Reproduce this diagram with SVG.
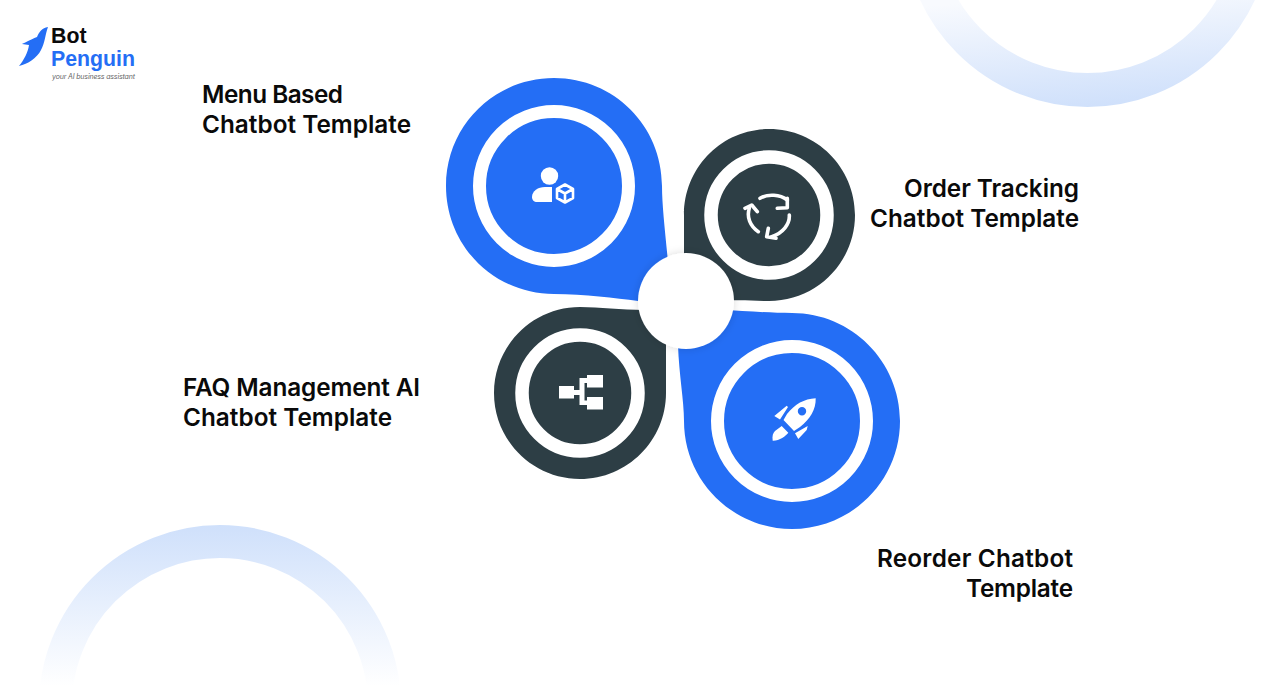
<svg xmlns="http://www.w3.org/2000/svg" width="1288" height="686" viewBox="0 0 1288 686">
<style>
.lbl{font-family:"Inter","Liberation Sans",sans-serif;font-size:24.300px;font-weight:600;fill:#0a0a0a}
.logo{font-family:"Liberation Sans",sans-serif;font-size:21.300px;font-weight:700}
.blue{fill:#246ef5}
.dark{fill:#2d3e45}
.ring{fill:none;stroke:#fff}
.ico{fill:#fff}
.lin{fill:none;stroke:#fff;stroke-width:3.600;stroke-linecap:round;stroke-linejoin:round}
</style>
<defs>
<linearGradient id="g1" gradientUnits="userSpaceOnUse" x1="1100" y1="107" x2="1090" y2="-8"><stop offset="0" stop-color="#cfe0fb"/><stop offset="1" stop-color="#f8fafe"/></linearGradient>
<linearGradient id="g2" gradientUnits="userSpaceOnUse" x1="220" y1="525" x2="220" y2="686"><stop offset="0" stop-color="#cfe0fb"/><stop offset="1" stop-color="#ffffff"/></linearGradient>
<filter id="sh" x="-30%" y="-30%" width="160%" height="160%"><feDropShadow dx="0" dy="0" stdDeviation="4" flood-color="#000" flood-opacity=".14"/></filter>
</defs>
<rect width="1288" height="686" fill="#fff"/>
<g id="bg-arcs">
<circle cx="1087.500" cy="-77.500" r="167.500" fill="none" stroke="url(#g1)" stroke-width="34"/>
<circle cx="220" cy="706" r="164.500" fill="none" stroke="url(#g2)" stroke-width="33"/>
</g>
<g id="logo">
<path fill="#246ef5" d="M48 27C42 28 39 32 37 37C30 40 24 43 22 44L29 45C28 52 24 60 19 66C28 64 37 58 41 50C45 43 45 35 48 27Z"/>
<text class="logo" x="51" y="43" fill="#0a0a0a">Bot</text>
<text class="logo" x="51" y="66" fill="#246ef5">Penguin</text>
<text x="52" y="79" font-family="Inter,'Liberation Sans',sans-serif" font-size="7" font-style="italic" fill="#666" textLength="83">your AI business assistant</text>
</g>
<g id="connectors"></g>
<g id="node-menu">
<path class="blue" d="M554 78C614 78 662 126 662 186C662 205 665 230 668 262L670 301L638 301C615 298 585 294 554 294C494 294 446 246 446 186C446 126 494 78 554 78Z"/>
<circle class="ring" cx="554" cy="186" r="74.500" stroke-width="13"/>
<circle class="ico" cx="549.500" cy="176" r="8.700"/>
<path class="ico" d="M532 197C532 191 538 187 545 187H552V202H537C534 202 532 200 532 197Z"/>
<path d="M565 184.500L573 189V198L565 202.500L557 198V189ZM557 189L565 193.500L573 189M565 193.500V202.500" fill="none" stroke="#fff" stroke-width="2.600" stroke-linejoin="round"/>
<text class="lbl" x="202" y="103" textLength="141">Menu Based</text>
<text class="lbl" x="202" y="133" textLength="209">Chatbot Template</text>
</g>
<g id="node-order">
<path class="dark" d="M769 129C816.500 129 855 167.500 855 215C855 262.500 816.500 301 769 301C755 301 745 300 730 300.500L684 302L684 215C684 167.500 721.500 129 769 129Z"/>
<circle class="ring" cx="769" cy="215" r="58" stroke-width="13.500"/>
<path class="lin" d="M760 198.300C768 193.500 780 194.500 787.300 200M789.300 215C790 224 783 233 771.700 236.700M758.300 231.700C750 226 746.500 217 749.300 208.300"/>
<path class="lin" d="M787.300 198.300V207.700L777.300 208.300M768.300 228.300L766.700 236.700L776 238.300M745 208.300L751.700 205L757.300 211.700"/>
<text class="lbl" x="904" y="197" textLength="175">Order Tracking</text>
<text class="lbl" x="870" y="227" textLength="209">Chatbot Template</text>
</g>
<g id="node-faq">
<path class="dark" d="M580 307C600 307 620 310 645 310L666 311L666 393C666 440.500 627.500 479 580 479C532.500 479 494 440.500 494 393C494 345.500 532.500 307 580 307Z"/>
<circle class="ring" cx="580" cy="393" r="58" stroke-width="13.500"/>
<rect class="ico" x="559" y="386" width="15" height="12.500"/>
<rect class="ico" x="587" y="375" width="16" height="12.500"/>
<rect class="ico" x="587" y="397" width="16" height="12.500"/>
<path class="ico" d="M574 390H579.500V378H587V383H584.500V400.500H587V405H579.500V395H574Z"/>
<text class="lbl" x="183" y="396" textLength="237">FAQ Management AI</text>
<text class="lbl" x="183" y="426" textLength="209">Chatbot Template</text>
</g>
<g id="node-reorder">
<path class="blue" d="M792 313C851.600 313 900 361.400 900 421C900 480.600 851.600 529 792 529C732.400 529 684 480.600 684 421C684 400 679 375 678 345L720 309.500C745 311 770 313 792 313Z"/>
<circle class="ring" cx="792" cy="421" r="74.500" stroke-width="13"/>
<path class="ico" fill-rule="evenodd" d="M815.700 398.300C804 399 795 404 787 414L783.500 420L794 431L800 427C810 419 816 410 815.700 398.300ZM802 407A4.200 4.200 0 1 0 802 415.400A4.200 4.200 0 1 0 802 407Z"/>
<path class="ico" d="M774.300 416L786.700 405.700L788 407L780 419.500ZM795 433.300L807.700 426L806.700 430L798.300 439ZM772.700 440.700C772 436 773 433 775 431L781.700 426L788.300 432.700C786 436 779 441 772.700 440.700Z"/>
<text class="lbl" x="877" y="567" textLength="196">Reorder Chatbot</text>
<text class="lbl" x="966" y="597" textLength="107">Template</text>
</g>
<g id="node-center">
<circle cx="686" cy="301" r="48" fill="#fff" filter="url(#sh)"/>
</g>
</svg>
